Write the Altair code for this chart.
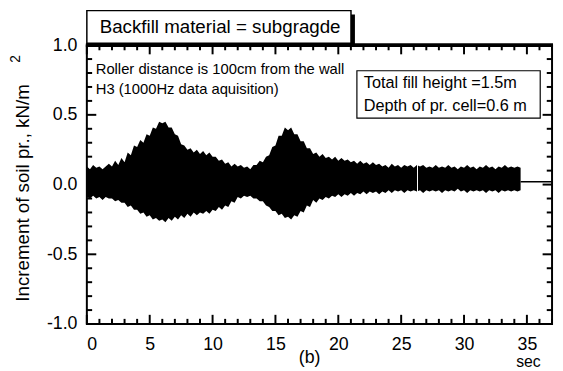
import altair as alt
import pandas as pd

time_s = [i * 0.25 for i in range(139)]
upper_env = [0.13, 0.11, 0.14, 0.12, 0.13, 0.11, 0.13, 0.15,
             0.13, 0.17, 0.14, 0.19, 0.16, 0.23, 0.21, 0.28,
             0.27, 0.32, 0.30, 0.36, 0.35, 0.41, 0.40, 0.45,
             0.44, 0.45, 0.41, 0.41, 0.36, 0.35, 0.29, 0.28,
             0.25, 0.26, 0.23, 0.25, 0.22, 0.24, 0.21, 0.23,
             0.20, 0.20, 0.17, 0.18, 0.15, 0.16, 0.13, 0.15,
             0.13, 0.14, 0.12, 0.13, 0.11, 0.14, 0.14, 0.17,
             0.16, 0.20, 0.21, 0.27, 0.28, 0.35, 0.35, 0.41,
             0.39, 0.41, 0.36, 0.36, 0.31, 0.31, 0.26, 0.26,
             0.22, 0.23, 0.20, 0.22, 0.19, 0.20, 0.18, 0.20,
             0.17, 0.19, 0.17, 0.18, 0.16, 0.17, 0.15, 0.17,
             0.15, 0.16, 0.14, 0.16, 0.14, 0.15, 0.13, 0.14,
             0.12, 0.15, 0.13, 0.14, 0.12, 0.14, 0.13, 0.14,
             0.12, 0.14, 0.13, 0.14, 0.12, 0.13, 0.12, 0.14,
             0.12, 0.13, 0.12, 0.14, 0.12, 0.13, 0.11, 0.13,
             0.12, 0.14, 0.12, 0.13, 0.11, 0.13, 0.12, 0.14,
             0.12, 0.13, 0.11, 0.13, 0.12, 0.14, 0.12, 0.13,
             0.12, 0.13, 0.12]
lower_env = [-0.09, -0.10, -0.08, -0.10, -0.09, -0.11, -0.09, -0.10,
             -0.10, -0.12, -0.11, -0.13, -0.13, -0.16, -0.15, -0.18,
             -0.18, -0.21, -0.20, -0.23, -0.22, -0.25, -0.24, -0.26,
             -0.25, -0.27, -0.24, -0.26, -0.23, -0.25, -0.22, -0.24,
             -0.21, -0.23, -0.20, -0.22, -0.20, -0.21, -0.19, -0.21,
             -0.18, -0.19, -0.16, -0.18, -0.15, -0.16, -0.12, -0.13,
             -0.09, -0.10, -0.08, -0.09, -0.08, -0.10, -0.10, -0.12,
             -0.12, -0.15, -0.16, -0.19, -0.19, -0.22, -0.21, -0.24,
             -0.23, -0.25, -0.22, -0.23, -0.19, -0.20, -0.15, -0.16,
             -0.11, -0.13, -0.10, -0.11, -0.09, -0.10, -0.08, -0.09,
             -0.07, -0.09, -0.07, -0.08, -0.06, -0.08, -0.06, -0.07,
             -0.05, -0.07, -0.05, -0.06, -0.05, -0.07, -0.05, -0.06,
             -0.04, -0.06, -0.04, -0.05, -0.04, -0.06, -0.04, -0.05,
             -0.04, -0.05, -0.04, -0.06, -0.04, -0.05, -0.04, -0.05,
             -0.04, -0.06, -0.04, -0.05, -0.04, -0.05, -0.03, -0.05,
             -0.04, -0.06, -0.04, -0.05, -0.04, -0.05, -0.04, -0.06,
             -0.04, -0.05, -0.04, -0.06, -0.04, -0.05, -0.04, -0.05,
             -0.04, -0.05, -0.04]
tail_t = [34.5, 37.0]
tail_v = [0.02, 0.02]
gap_t = [26.3]
gap_lo = [-0.07]
gap_hi = [0.16]

x_tick_labels = [0, 5, 10, 15, 20, 25, 30, 35]
y_tick_labels = [-1.0, -0.5, 0.0, 0.5, 1.0]
x_minor = list(range(0, 38))
y_minor = [round(-1.0 + 0.1 * i, 1) for i in range(21)]

XMAX = 37.0
FONT = "Liberation Sans"

sig = pd.DataFrame({"t": time_s, "hi": upper_env, "lo": lower_env})
tail = pd.DataFrame({"t": tail_t[:1], "t2": tail_t[1:], "v": tail_v[:1]})
gap = pd.DataFrame({"t": gap_t, "lo": gap_lo, "hi": gap_hi})

xs = alt.Scale(domain=[0, XMAX], nice=False, zero=False)
ys = alt.Scale(domain=[-1.0, 1.0], nice=False, zero=False)

xaxis = alt.Axis(values=x_tick_labels, format="d", tickSize=0, domain=False, grid=False,
                 labelFontSize=18, labelFont=FONT, labelColor="black", labelPadding=12,
                 title=None)
yaxis = alt.Axis(values=y_tick_labels, tickSize=0, domain=False, grid=False,
                 labelExpr="datum.value < 0 ? '-' + format(-datum.value, '.1f') : format(datum.value, '.1f')",
                 labelFontSize=18, labelFont=FONT, labelColor="black", labelPadding=10,
                 title=None)

band = alt.Chart(sig).mark_area(color="black", opacity=1).encode(
    x=alt.X("t:Q", scale=xs, axis=xaxis),
    y=alt.Y("hi:Q", scale=ys, axis=yaxis),
    y2="lo:Q",
)
tail_line = alt.Chart(tail).mark_rule(color="black", strokeWidth=1.5).encode(
    x="t:Q", x2="t2:Q", y="v:Q")
gap_line = alt.Chart(gap).mark_rule(color="white", strokeWidth=1).encode(
    x="t:Q", y="lo:Q", y2="hi:Q")

# inward tick marks on all four sides (lengths in data units)
xlen_minor, xlen_major = 0.037, 0.066
ylen_minor, ylen_major = 0.42, 0.75
bx, by, bL = [], [], []
for v in x_minor:
    L = xlen_major if v % 5 == 0 else xlen_minor
    bx.append(float(v)); by.append(-1.0); bL.append(-1.0 + L)
    bx.append(float(v)); by.append(1.0); bL.append(1.0 - L)
lx, lx2, ly = [], [], []
for v in y_minor:
    L = ylen_major if abs(v * 2 - round(v * 2)) < 1e-6 else ylen_minor
    lx.append(0.0); lx2.append(L); ly.append(v)
    lx.append(XMAX); lx2.append(XMAX - L); ly.append(v)

vt = pd.DataFrame({"t": bx, "lo": by, "hi": bL})
ht = pd.DataFrame({"t": lx, "t2": lx2, "v": ly})

vticks = alt.Chart(vt).mark_rule(color="black", strokeWidth=2).encode(
    x="t:Q", y="lo:Q", y2="hi:Q")
hticks = alt.Chart(ht).mark_rule(color="black", strokeWidth=2).encode(
    x="t:Q", x2="t2:Q", y="v:Q")

one = pd.DataFrame({"a": [0]})

top_frame = alt.Chart(one).mark_rect(color="black").encode(
    x=alt.value(-1), x2=alt.value(473), y=alt.value(-2), y2=alt.value(2))

# title box with drop shadow
shadow = alt.Chart(one).mark_rect(color="black").encode(
    x=alt.value(4), x2=alt.value(272), y=alt.value(-31), y2=alt.value(2))
tbox = alt.Chart(one).mark_rect(fill="white", stroke="black", strokeWidth=1.5).encode(
    x=alt.value(0), x2=alt.value(268), y=alt.value(-35), y2=alt.value(-2))
ttext = alt.Chart(one).mark_text(text="Backfill material = subgragde", font=FONT, fontSize=19,
                                 align="left", baseline="middle", color="black").encode(
    x=alt.value(13), y=alt.value(-18))

# info box
ibox = alt.Chart(one).mark_rect(fill="white", stroke="black", strokeWidth=1.2).encode(
    x=alt.value(274), x2=alt.value(460), y=alt.value(26), y2=alt.value(74))
itext1 = alt.Chart(one).mark_text(text="Total fill height =1.5m", font=FONT, fontSize=16.5,
                                  align="left", baseline="middle", color="black").encode(
    x=alt.value(281), y=alt.value(39))
itext2 = alt.Chart(one).mark_text(text="Depth of pr. cell=0.6 m", font=FONT, fontSize=16.5,
                                  align="left", baseline="middle", color="black").encode(
    x=alt.value(281), y=alt.value(62))

note1 = alt.Chart(one).mark_text(text="Roller distance is 100cm from the wall", font=FONT,
                                 fontSize=15, align="left", baseline="middle", color="black").encode(
    x=alt.value(9), y=alt.value(24))
note2 = alt.Chart(one).mark_text(text="H3  (1000Hz data aquisition)", font=FONT,
                                 fontSize=15, align="left", baseline="middle", color="black").encode(
    x=alt.value(9), y=alt.value(45))

ytitle = alt.Chart(one).mark_text(text="Increment of soil pr., kN/m", font=FONT, fontSize=19,
                                  angle=270, align="center", baseline="middle", color="black").encode(
    x=alt.value(-65), y=alt.value(150))
ysup = alt.Chart(one).mark_text(text="2", font=FONT, fontSize=14, angle=270, align="center",
                                baseline="middle", color="black").encode(
    x=alt.value(-72), y=alt.value(14))

blabel = alt.Chart(one).mark_text(text="(b)", font=FONT, fontSize=18, align="center",
                                  baseline="middle", color="black").encode(
    x=alt.value(226), y=alt.value(318))
seclabel = alt.Chart(one).mark_text(text="sec", font=FONT, fontSize=16, align="center",
                                    baseline="middle", color="black").encode(
    x=alt.value(448), y=alt.value(322))

chart = alt.layer(
    band, gap_line, tail_line, vticks, hticks,
    shadow, tbox, ttext, ibox, itext1, itext2, note1, note2, ytitle, ysup, blabel, seclabel,
    top_frame
).properties(
    width=472, height=283,
    autosize=alt.AutoSizeParams(type="none"),
    padding={"left": 80, "top": 35, "right": 3, "bottom": 45},
    background="white",
).configure_view(stroke="black", strokeWidth=2)

chart.save("out.html", embed_options={"renderer": "svg", "actions": False})
